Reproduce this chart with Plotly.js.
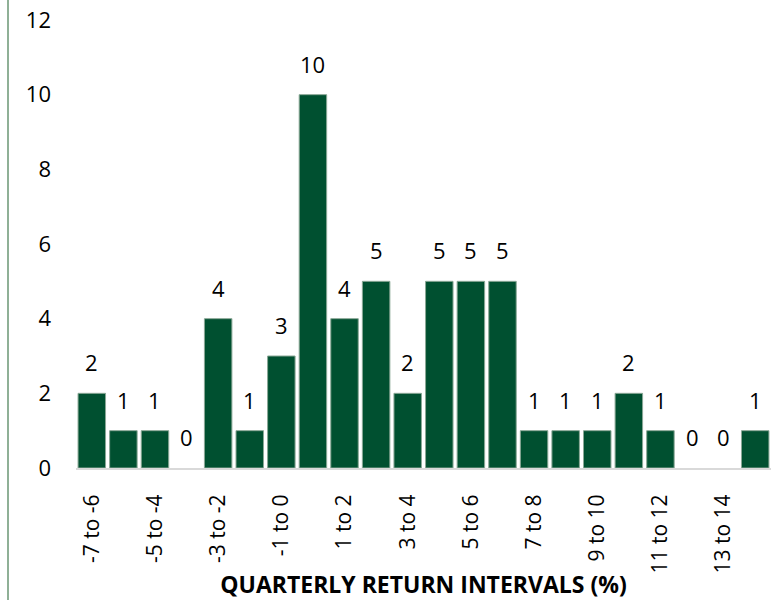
<!DOCTYPE html>
<html>
<head>
<meta charset="utf-8">
<script src="https://cdn.plot.ly/plotly-3.0.1.min.js"></script>
<style>html,body{margin:0;padding:0;background:#fff}#chart{width:775px;height:600px}</style>
</head>
<body>
<div id="chart"></div>
<script>
const categories = ["-7 to -6","-6 to -5","-5 to -4","-4 to -3","-3 to -2","-2 to -1","-1 to 0","0 to 1","1 to 2","2 to 3","3 to 4","4 to 5","5 to 6","6 to 7","7 to 8","8 to 9","9 to 10","10 to 11","11 to 12","12 to 13","13 to 14","14 to 15"];
const counts = [2,1,1,0,4,1,3,10,4,5,2,5,5,5,1,1,1,2,1,0,0,1];
const tickLabels = ["-7 to -6","-5 to -4","-3 to -2","-1 to 0","1 to 2","3 to 4","5 to 6","7 to 8","9 to 10","11 to 12","13 to 14"];
const yTicks = [0,2,4,6,8,10,12];
const xTitle = "QUARTERLY RETURN INTERVALS (%)";

const font = "'Open Sans', sans-serif";
const labels = categories.map((c, i) => ({
  x: c, y: counts[i], xref: 'x', yref: 'y',
  text: String(counts[i]), showarrow: false,
  yanchor: 'bottom', yshift: 14,
  font: {family: font, size: 22, color: '#000'}
}));

Plotly.newPlot('chart', [{
  type: 'bar',
  x: categories,
  y: counts,
  marker: {color: '#005030', line: {color: '#8aa896', width: counts.map(v => v > 0 ? 1 : 0)}},
  hoverinfo: 'none'
}], {
  width: 775, height: 600,
  margin: {l: 76, r: 4, t: 20, b: 132},
  paper_bgcolor: '#fff', plot_bgcolor: '#fff',
  bargap: 0.13,
  showlegend: false,
  font: {family: font, size: 22, color: '#000'},
  annotations: labels,
  xaxis: {
    type: 'category',
    tickvals: tickLabels, ticktext: tickLabels,
    tickangle: -90,
    showline: true, linecolor: '#d9d9d9', linewidth: 2,
    showgrid: false, zeroline: false,
    ticks: '', ticklabelstandoff: 16,
    tickfont: {family: font, size: 21},
    title: {text: '<b>' + xTitle + '</b>', font: {family: font, size: 23}, standoff: 4}
  },
  yaxis: {
    range: [0, 12], tickvals: yTicks,
    showgrid: false, zeroline: false, showline: false,
    ticks: '', ticklabelstandoff: 24,
    tickfont: {family: font, size: 22}
  },
  shapes: [{
    type: 'line', xref: 'paper', yref: 'paper',
    x0: -68/695, x1: -68/695, y0: -132/448, y1: 1 + 20/448,
    line: {color: '#8fb096', width: 2}
  }]
}, {displayModeBar: false, staticPlot: true});
</script>
</body>
</html>
